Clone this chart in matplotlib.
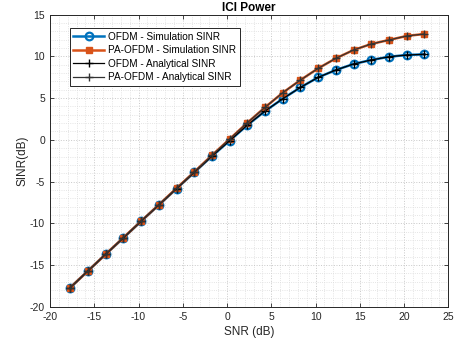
import numpy as np
import matplotlib
matplotlib.use('Agg')
import matplotlib.pyplot as plt
from matplotlib.ticker import MultipleLocator

plt.rcParams['font.family'] = ['Liberation Sans', 'DejaVu Sans']
plt.rcParams['axes.unicode_minus'] = False

# SNR points (dB)
snr = [-17.7, -15.7, -13.7, -11.7, -9.7, -7.7, -5.7, -3.7, -1.7, 0.3, 2.3,
       4.3, 6.3, 8.3, 10.3, 12.3, 14.3, 16.3, 18.3, 20.3, 22.3]

# SINR (dB)
ofdm_sim = [-17.7, -15.7, -13.7, -11.75, -9.75, -7.8, -5.85, -3.9, -1.95, -0.1, 1.77,
            3.45, 4.93, 6.29, 7.49, 8.37, 9.09, 9.57, 9.96, 10.17, 10.25]
pa_sim = [-17.7, -15.7, -13.7, -11.72, -9.74, -7.78, -5.8, -3.85, -1.85, 0.1, 2.05,
          3.9, 5.65, 7.17, 8.57, 9.77, 10.77, 11.49, 11.97, 12.45, 12.69]
ofdm_ana = ofdm_sim
pa_ana = pa_sim

fig = plt.figure(figsize=(4.6, 3.46), dpi=100)
ax = fig.add_axes([50/460, 1-306.7/346, 398.3/460, 292/346])

ax.plot(snr, ofdm_sim, '-o', color='#0072BD', lw=1.8, ms=5.5, mfc='none', mew=1.6,
        label='OFDM - Simulation SINR')
ax.plot(snr, pa_sim, '-s', color='#D95319', lw=1.8, ms=5, mfc='#D95319', mew=1.0,
        label='PA-OFDM - Simulation SINR')
ax.plot(snr, ofdm_ana, '-+', color='black', lw=0.9, ms=6, mew=1.0,
        label='OFDM - Analytical SINR')
ax.plot(snr, pa_ana, '-+', color='#333333', lw=0.9, ms=6, mew=1.0,
        label='PA-OFDM - Analytical SINR')

ax.set_xlim(-20, 25)
ax.set_ylim(-20, 15)
ax.xaxis.set_major_locator(MultipleLocator(5))
ax.yaxis.set_major_locator(MultipleLocator(5))
ax.xaxis.set_minor_locator(MultipleLocator(1))
ax.yaxis.set_minor_locator(MultipleLocator(1))
ax.grid(which='major', color='#c8c8c8', ls=':', lw=0.7)
ax.grid(which='minor', color='#dcdcdc', ls=':', lw=0.6)
ax.set_axisbelow(True)
ax.tick_params(which='major', direction='in', length=3, top=True, right=True,
               labelsize=7.5, colors='#262626', width=0.6)
ax.tick_params(which='minor', length=0)
for s in ax.spines.values():
    s.set_color('#262626')
    s.set_linewidth(0.7)

ax.set_xlabel('SNR (dB)', fontsize=8.5, color='#262626', labelpad=3)
ax.set_ylabel('SINR(dB)', fontsize=8.5, color='#262626', labelpad=1)
ax.set_title('ICI Power', fontsize=8.5, fontweight='bold', pad=3)

leg = ax.legend(loc='upper left', bbox_to_anchor=(0.05, 0.954), borderaxespad=0,
                fontsize=7.2, fancybox=False, framealpha=1, edgecolor='#262626',
                handlelength=3.1, borderpad=0.35, labelspacing=0.36, handletextpad=0.4)
leg.get_frame().set_linewidth(0.7)

fig.savefig('out.png', dpi=100)
